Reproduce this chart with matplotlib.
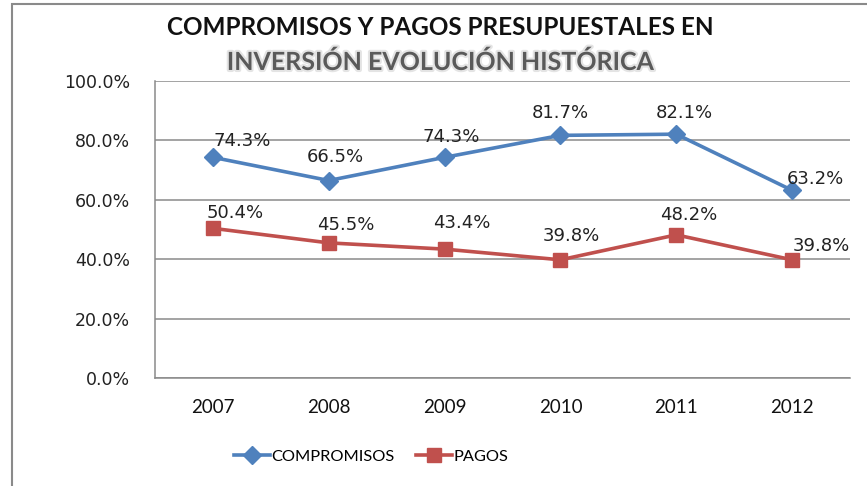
import numpy as np
import matplotlib.pyplot as plt
import matplotlib.patheffects as pe
from matplotlib.patches import Rectangle

# datos
years = ["2007", "2008", "2009", "2010", "2011", "2012"]
compromisos = [74.3, 66.5, 74.3, 81.7, 82.1, 63.2]
pagos = [50.4, 45.5, 43.4, 39.8, 48.2, 39.8]

# desplazamiento de las etiquetas (en puntos)
off_comp = [(21, 12), (5, 17), (5, 15), (0, 16), (6, 15), (17, 8)]
off_pagos = [(16, 11), (12, 13), (12, 19), (8, 17), (9, 14), (21, 10)]

blue = "#4F81BD"
red = "#C0504D"

fig = plt.figure(figsize=(8.67, 4.86), dpi=100)
ax = fig.add_axes([0.1788, 0.2222, 0.8016, 0.6111])

x = np.arange(len(years))
ax.plot(x, compromisos, color=blue, lw=2.6, marker="D", ms=9, label="COMPROMISOS")
ax.plot(x, pagos, color=red, lw=2.6, marker="s", ms=9.5, label="PAGOS")

for i, v in enumerate(compromisos):
    ax.annotate(f"{v:.1f}%", (x[i], v), xytext=off_comp[i], textcoords="offset points",
                ha="center", va="center", fontsize=13, color="#222222",
                family="DejaVu Sans")
for i, v in enumerate(pagos):
    ax.annotate(f"{v:.1f}%", (x[i], v), xytext=off_pagos[i], textcoords="offset points",
                ha="center", va="center", fontsize=13, color="#222222",
                family="DejaVu Sans")

ax.set_xlim(-0.5, len(years) - 0.5)
ax.set_ylim(0, 100)
ax.set_yticks([0, 20, 40, 60, 80, 100])
ax.set_yticklabels([f"{t:.1f}%" for t in [0, 20, 40, 60, 80, 100]],
                   fontsize=12.5, family="DejaVu Sans", color="#222222")
ax.set_xticks(x)
ax.set_xticklabels(years, fontsize=13.5, family="Lato", color="#111111")
ax.tick_params(axis="y", length=0, pad=18)
ax.tick_params(axis="x", length=0, pad=15)
ax.grid(axis="y", color="#8a8a8a", lw=1.1)
ax.set_axisbelow(True)
for s in ["top", "right"]:
    ax.spines[s].set_visible(False)
for s in ["left", "bottom"]:
    ax.spines[s].set_color("#8a8a8a")
    ax.spines[s].set_linewidth(1.1)

# titulo
fig.text(0.508, 0.943, "COMPROMISOS Y PAGOS PRESUPUESTALES EN", ha="center", va="center",
         fontsize=17.5, fontweight="bold", family="Lato", color="#111111")
fig.text(0.508, 0.872, "INVERSIÓN EVOLUCIÓN HISTÓRICA", ha="center", va="center",
         fontsize=18, fontweight="bold", family="Lato", color="#5a5a5a",
         path_effects=[pe.withStroke(linewidth=3, foreground="#e4e4e4")])

leg = fig.legend(loc="center", bbox_to_anchor=(0.428, 0.06), ncol=2, frameon=False,
                 handlelength=2.2, columnspacing=1.3, handletextpad=0.1,
                 prop={"family": "Lato", "size": 11.8})

# borde del area del grafico
fig.add_artist(Rectangle((12 / 867, -0.1), 1.2, 1 - 4 / 486 + 0.1, transform=fig.transFigure,
                         fill=False, edgecolor="#8a8a8a", lw=1.5))

fig.savefig("out.png", dpi=100)
